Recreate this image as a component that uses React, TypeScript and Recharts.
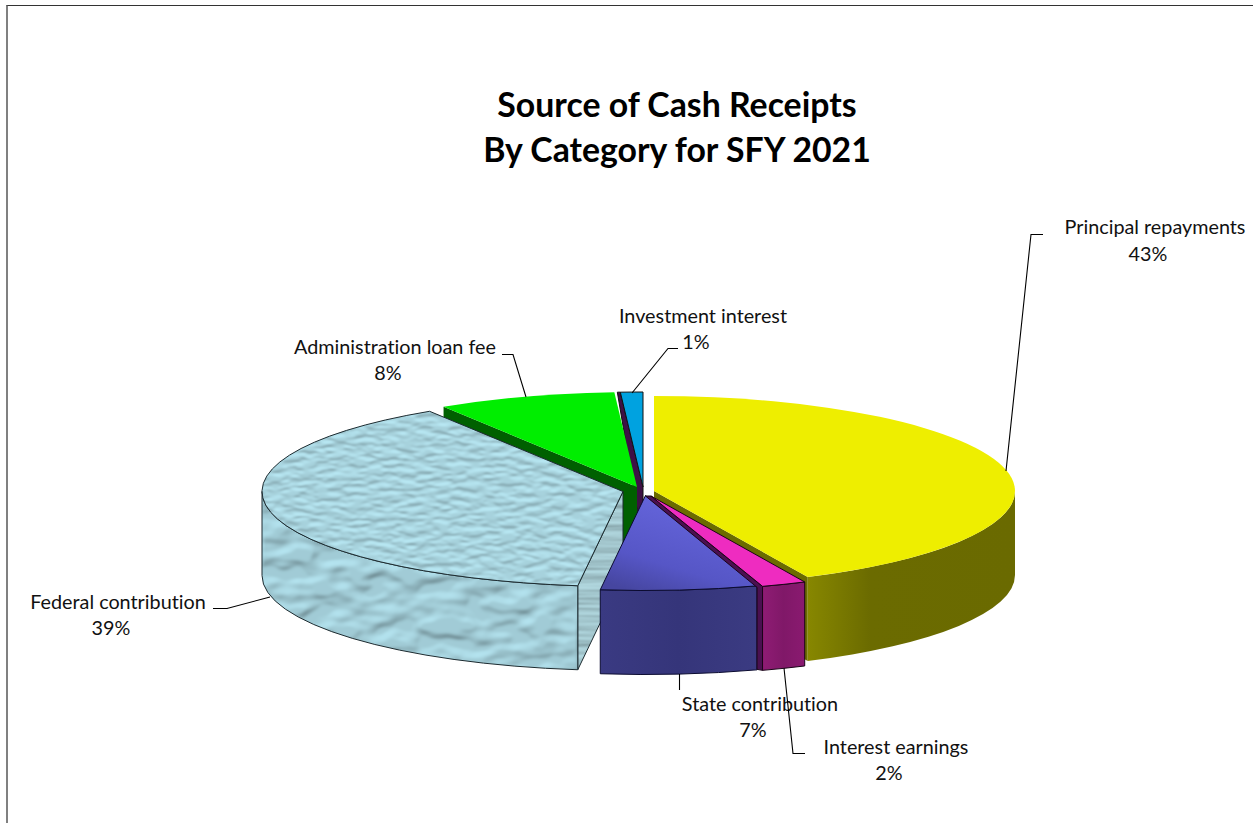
import React from "react";
import { PieChart, Pie } from "recharts";

const categories = ["Principal repayments", "Investment interest", "Administration loan fee", "Federal contribution", "State contribution", "Interest earnings"];
const shares = [43, 1, 8, 39, 7, 2];
const titleLines = ["Source of Cash Receipts", "By Category for SFY 2021"];
const rows = categories.map((name, i) => ({ name, value: shares[i] }));

const W = 1253, H = 823, BASE_X = 640, BASE_Y = 490, RX = 361, RY = 95, DEPTH = 84;

type Look = {
  dx: number; dy: number; top: string; wall: string; cut: string; stroke?: string;
  cutEdge?: "start" | "end"; band?: number; bandDrop?: number; topFilter?: string; wallFilter?: string; cutFilter?: string;
};
const looks: Record<string, Look> = {
  "Principal repayments": { dx: 14, dy: 1, top: "#eeee00", wall: "url(#gYellow)", cut: "#6b6b00", cutEdge: "start" },
  "Investment interest": { dx: 3, dy: -3, top: "#00a2e0", wall: "#3e1045", cut: "#3e1045", stroke: "#111", cutEdge: "end", band: 5, bandDrop: 28 },
  "Administration loan fee": { dx: -3, dy: -3, top: "#00ee00", wall: "#006000", cut: "#006000", cutEdge: "end" },
  "Federal contribution": { dx: -17, dy: 1.5, top: "#a8d9e5", wall: "#a0d2de", cut: "#a6d3dc", stroke: "#1d2b30", cutEdge: "end", topFilter: "url(#waterTop)", wallFilter: "url(#waterWall)", cutFilter: "url(#waterCut)" },
  "State contribution": { dx: 5.5, dy: 5.5, top: "url(#gState)", wall: "url(#gStateWall)", cut: "#38387e", stroke: "#0b0b30" },
  "Interest earnings": { dx: 11, dy: 6, top: "#ee2cc0", wall: "url(#gPink)", cut: "#4a1050", stroke: "#1a0418", cutEdge: "start", band: 5.5, bandDrop: DEPTH },
};

const labelSpots: Record<string, { name: [number, number]; pct: [number, number]; leader: [number, number][] }> = {
  "Principal repayments": { name: [1155, 226], pct: [1148, 253], leader: [[1043, 234.5], [1031, 234.5], [1006, 471]] },
  "Investment interest": { name: [703, 315], pct: [696, 341], leader: [[678, 348.5], [668, 348.5], [632, 393]] },
  "Administration loan fee": { name: [395, 346], pct: [388, 372], leader: [[502, 354.5], [513, 354.5], [526, 397]] },
  "Federal contribution": { name: [118, 601], pct: [111, 627], leader: [[213, 608.5], [227, 608.5], [270, 597]] },
  "State contribution": { name: [760, 703], pct: [753, 729], leader: [[679.5, 674], [679.5, 690]] },
  "Interest earnings": { name: [896, 746], pct: [889, 772], leader: [[805, 753.5], [793, 753.5], [784, 668]] },
};

const FONT = "Lato, Carlito, sans-serif";
const rad = (a: number) => (a * Math.PI) / 180;

function blobFilter(id: string, freq: string, seed: number, slope: number, intercept: number, blur: number, scale: number, color: string, azimuth: number) {
  return (
    <filter id={id} x="0" y="0" width="1" height="1" colorInterpolationFilters="sRGB">
      <feTurbulence type="fractalNoise" baseFrequency={freq} numOctaves={2} seed={seed} result="n" />
      <feColorMatrix in="n" type="matrix" values="0 0 0 0 0  0 0 0 0 0  0 0 0 0 0  1 0 0 0 0" result="h" />
      <feComponentTransfer in="h" result="t">
        <feFuncA type="linear" slope={slope} intercept={intercept} />
      </feComponentTransfer>
      <feGaussianBlur in="t" stdDeviation={blur} result="b" />
      <feDiffuseLighting in="b" surfaceScale={scale} diffuseConstant={1} lightingColor={color} result="l">
        <feDistantLight azimuth={azimuth} elevation={62} />
      </feDiffuseLighting>
      <feComposite in="l" in2="SourceGraphic" operator="in" />
    </filter>
  );
}

function SliceShape(props: any) {
  const { name, startAngle, endAngle, cx, cy } = props;
  const look = looks[name];
  if (!look) return null;
  const x0 = cx + look.dx, y0 = cy + look.dy;
  const pt = (a: number): [number, number] => [x0 + RX * Math.cos(rad(a)), y0 - RY * Math.sin(rad(a))];
  const [sx, sy] = pt(startAngle);
  const [ex, ey] = pt(endAngle);
  const surface = `M${x0},${y0} L${sx},${sy} A${RX},${RY} 0 0 0 ${ex},${ey} Z`;

  let front: [number, number] | null = null;
  for (const k of [-1, 0, 1]) {
    const a = Math.max(startAngle, 180 + 360 * k), b = Math.min(endAngle, 360 + 360 * k);
    if (b > a && (!front || b - a > front[1] - front[0])) front = [a, b];
  }
  let outer = "";
  if (front) {
    const [ax, ay] = pt(front[0]);
    const [bx, by] = pt(front[1]);
    outer = `M${ax},${ay} A${RX},${RY} 0 0 0 ${bx},${by} L${bx},${by + DEPTH} A${RX},${RY} 0 0 1 ${ax},${ay + DEPTH} Z`;
  }
  let cut = "";
  if (look.cutEdge) {
    const [ox, oy] = look.cutEdge === "start" ? [sx, sy] : [ex, ey];
    if (look.band) {
      const drop = look.bandDrop ?? DEPTH;
      const isPink = drop === DEPTH;
      cut = isPink
        ? `M${x0},${y0} L${ox},${oy} L${ox},${oy + drop} L${ox - look.band},${oy + drop - 1} L${ox - look.band},${oy + 1} L${x0 - look.band},${y0} Z`
        : `M${ox},${oy} L${x0},${y0} L${x0},${y0 + drop} L${x0 - look.band},${y0 + drop} L${ox - look.band + 2},${oy} Z`;
    } else {
      cut = `M${ox},${oy} L${x0},${y0} L${x0},${y0 + DEPTH} L${ox},${oy + DEPTH} Z`;
    }
  }
  const st = look.stroke ?? "none";
  return (
    <g>
      <defs>
        <linearGradient id="gYellow" x1="0" y1="0" x2="1" y2="0">
          <stop offset="0" stopColor="#878700" /><stop offset="0.12" stopColor="#7c7c00" /><stop offset="0.3" stopColor="#6b6b00" /><stop offset="1" stopColor="#6a6a00" />
        </linearGradient>
        <linearGradient id="gState" x1="0.7" y1="0" x2="0.2" y2="1">
          <stop offset="0" stopColor="#6868e0" /><stop offset="0.7" stopColor="#5656c6" /><stop offset="1" stopColor="#4646a0" />
        </linearGradient>
        <linearGradient id="gStateWall" x1="0" y1="0" x2="1" y2="0">
          <stop offset="0" stopColor="#3a3a82" /><stop offset="0.5" stopColor="#35357a" /><stop offset="1" stopColor="#3b3b82" />
        </linearGradient>
        <linearGradient id="gPink" x1="0" y1="0" x2="1" y2="0">
          <stop offset="0" stopColor="#8f1c74" /><stop offset="0.5" stopColor="#801868" /><stop offset="1" stopColor="#8a1a70" />
        </linearGradient>
        {blobFilter("waterTop", "0.06 0.2", 7, 5, -2.1, 0.8, 0.4, "#bdeefa", 90)}
        {blobFilter("waterWall", "0.03 0.055", 11, 4, -1.5, 1.8, 1.0, "#b6e6f2", 250)}
        {blobFilter("waterCut", "0.008 0.14", 3, 2, -0.5, 0.5, 0.5, "#b8e0e8", 90)}
      </defs>
      {cut && <path d={cut} fill={look.cut} filter={look.cutFilter} />}
      {cut && st !== "none" && <path d={cut} fill="none" stroke={st} strokeWidth={1} />}
      {outer && <path d={outer} fill={look.wall} filter={look.wallFilter} />}
      {outer && st !== "none" && <path d={outer} fill="none" stroke={st} strokeWidth={1} />}
      <path d={surface} fill={look.top} filter={look.topFilter} />
      {st !== "none" && <path d={surface} fill="none" stroke={st} strokeWidth={1} />}
    </g>
  );
}

function SliceLabel(props: any) {
  const { name, percent } = props;
  const spot = labelSpots[name];
  if (!spot) return null;
  const style = { fontFamily: FONT, fontSize: 19.8, fill: "#111", fontVariantLigatures: "none" } as React.CSSProperties;
  return (
    <g>
      <polyline points={spot.leader.map((p) => p.join(",")).join(" ")} fill="none" stroke="#000" strokeWidth={1.1} />
      <text x={spot.name[0]} y={spot.name[1]} textAnchor="middle" dominantBaseline="central" style={style}>{name}</text>
      <text x={spot.pct[0]} y={spot.pct[1]} textAnchor="middle" dominantBaseline="central" style={style}>{`${Math.round(percent * 100)}%`}</text>
    </g>
  );
}

const titleStyle = { fontFamily: FONT, fontWeight: 700, fontSize: 33.8, fill: "#000", fontVariantLigatures: "none" } as React.CSSProperties;

export default function App() {
  return (
    <div style={{ position: "absolute", left: 0, top: 0, width: W, height: H, overflow: "hidden", background: "#fff" }}>
      <div style={{ position: "absolute", left: 6, top: 5, width: W, height: H, boxSizing: "border-box", borderLeft: "2px solid #808080", borderTop: "1px solid #333" }} />
      <div style={{ position: "absolute", left: 0, top: 0 }}>
        <PieChart width={W} height={H} margin={{ top: 0, right: 0, bottom: 0, left: 0 }}>
          <text x={677} y={104} textAnchor="middle" dominantBaseline="central" style={titleStyle}>{titleLines[0]}</text>
          <text x={677} y={149} textAnchor="middle" dominantBaseline="central" style={titleStyle}>{titleLines[1]}</text>
          <Pie
            data={rows}
            dataKey="value"
            nameKey="name"
            cx={BASE_X}
            cy={BASE_Y}
            innerRadius={0}
            outerRadius={RX}
            startAngle={-64.8}
            endAngle={295.2}
            paddingAngle={0}
            stroke="none"
            shape={SliceShape}
            label={SliceLabel}
            labelLine={false}
            isAnimationActive={false}
          />
        </PieChart>
      </div>
    </div>
  );
}
